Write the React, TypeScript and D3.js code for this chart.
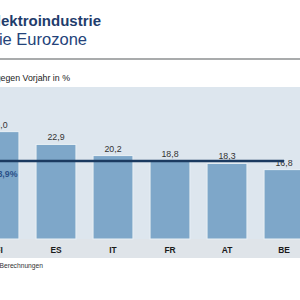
import React, { useEffect, useRef } from 'react';
import * as d3 from 'd3';

const countries = ['FI', 'ES', 'IT', 'FR', 'AT', 'BE'];
const growth = [26.0, 22.9, 20.2, 18.8, 18.3, 16.8];
const eurozoneAvg = 18.9;

const FONT = '"Liberation Sans", Arial, sans-serif';
const fmt = (v: number) => d3.format('.1f')(v).replace('.', ',');

export default function App() {
  const ref = useRef<SVGSVGElement>(null);

  useEffect(() => {
    const svg = d3.select(ref.current);
    svg.selectAll('*').remove();

    const plotTop = 87;
    const baseY = 239;
    const stripBottom = 258;

    const x = d3.scaleBand<string>()
      .domain(countries)
      .range([-29.5, 312.5])
      .paddingInner(0.3)
      .paddingOuter(0.15);
    const y = d3.scaleLinear().domain([0, 30]).range([baseY, baseY - 30 * 4.13]);

    // heading
    svg.append('text')
      .attr('x', 101).attr('y', 26)
      .attr('text-anchor', 'end')
      .attr('font-family', FONT).attr('font-size', 15).attr('font-weight', 'bold')
      .attr('fill', '#1f3d6c')
      .text('Wachstum der Elektroindustrie');
    svg.append('text')
      .attr('x', 87).attr('y', 45)
      .attr('text-anchor', 'end')
      .attr('font-family', FONT).attr('font-size', 16.5)
      .attr('fill', '#24437a')
      .text('Spitzenländer für die Eurozone');

    svg.append('line')
      .attr('x1', 0).attr('x2', 300).attr('y1', 59).attr('y2', 59)
      .attr('stroke', '#8d8f91').attr('stroke-width', 1.5);

    svg.append('text')
      .attr('x', 70).attr('y', 81)
      .attr('text-anchor', 'end')
      .attr('font-family', FONT).attr('font-size', 8.8)
      .attr('fill', '#222')
      .text('Umsatz 2021, Veränderung gegen Vorjahr in %');

    // plot panel + category strip
    svg.append('rect')
      .attr('x', 0).attr('y', plotTop).attr('width', 300).attr('height', baseY - plotTop)
      .attr('fill', '#dde6ee');
    svg.append('rect')
      .attr('x', 0).attr('y', baseY).attr('width', 300).attr('height', stripBottom - baseY)
      .attr('fill', '#dfe4e9');

    svg.selectAll('rect.bar')
      .data(countries)
      .enter()
      .append('rect')
      .attr('class', 'bar')
      .attr('x', d => x(d)!)
      .attr('width', x.bandwidth())
      .attr('y', (d, i) => y(growth[i]))
      .attr('height', (d, i) => baseY - y(growth[i]))
      .attr('fill', '#7ea7c9')
      .attr('stroke', '#e9f0f5').attr('stroke-width', 1);

    svg.selectAll('text.val')
      .data(countries)
      .enter()
      .append('text')
      .attr('class', 'val')
      .attr('x', d => x(d)! + x.bandwidth() / 2)
      .attr('y', (d, i) => y(growth[i]) - 4)
      .attr('text-anchor', 'middle')
      .attr('font-family', FONT).attr('font-size', 8.8)
      .attr('fill', '#333')
      .text((d, i) => fmt(growth[i]));

    svg.selectAll('text.cat')
      .data(countries)
      .enter()
      .append('text')
      .attr('class', 'cat')
      .attr('x', d => x(d)! + x.bandwidth() / 2)
      .attr('y', 253)
      .attr('text-anchor', 'middle')
      .attr('font-family', FONT).attr('font-size', 8.4).attr('font-weight', 'bold')
      .attr('fill', '#1a1a1a')
      .text(d => d);

    // eurozone average line
    const last = countries[countries.length - 1];
    svg.append('line')
      .attr('x1', x(countries[0])!)
      .attr('x2', x(last)! + x.bandwidth() / 2)
      .attr('y1', y(eurozoneAvg)).attr('y2', y(eurozoneAvg))
      .attr('stroke', '#1b3a60').attr('stroke-width', 2.5);
    svg.append('text')
      .attr('x', 17.5).attr('y', y(eurozoneAvg) + 16)
      .attr('text-anchor', 'end')
      .attr('font-family', FONT).attr('font-size', 8.8).attr('font-weight', 'bold')
      .attr('fill', '#2b5189')
      .text(fmt(eurozoneAvg) + '%');

    svg.append('text')
      .attr('x', 43).attr('y', 268)
      .attr('text-anchor', 'end')
      .attr('font-family', FONT).attr('font-size', 6.7)
      .attr('fill', '#333')
      .text('Quelle: Eurostat, eigene Berechnungen');
  }, []);

  return (
    <svg ref={ref} width={300} height={300}
      style={{ position: 'absolute', left: 0, top: 0, background: '#fff' }} />
  );
}
